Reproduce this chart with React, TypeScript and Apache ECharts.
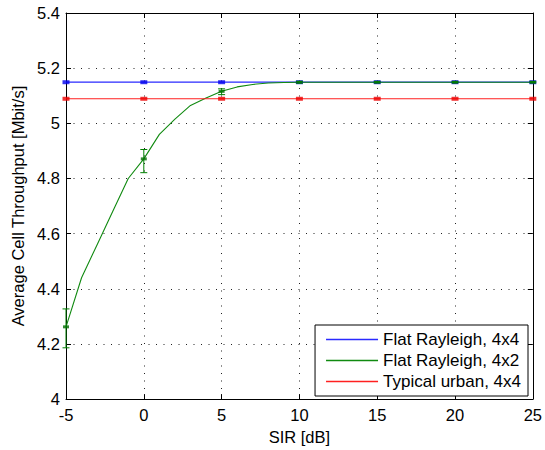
import React, { useEffect, useRef } from "react";
import * as echarts from "echarts";

const sirGrid: number[] = [-5, -4, -3, -2, -1, 0, 1, 2, 3, 4, 5, 6, 7, 8, 9, 10, 11, 12, 13, 14, 15, 16, 17, 18, 19, 20, 21, 22, 23, 24, 25];
const flatRayleigh4x2: number[] = [4.262, 4.44, 4.56, 4.68, 4.8, 4.871, 4.96, 5.015, 5.065, 5.092, 5.116, 5.132, 5.141, 5.146, 5.148, 5.149, 5.149, 5.149, 5.149, 5.149, 5.149, 5.149, 5.149, 5.149, 5.149, 5.149, 5.149, 5.149, 5.149, 5.149, 5.149];

const markerX: number[] = [-5, 0, 5, 10, 15, 20, 25];
const flatRayleigh4x4: number[] = [5.149, 5.149, 5.149, 5.149, 5.149, 5.149, 5.149];
const typicalUrban4x4: number[] = [5.089, 5.089, 5.089, 5.089, 5.089, 5.089, 5.089];
const flat4x2AtMarkers: number[] = [4.262, 4.871, 5.116, 5.149, 5.149, 5.149, 5.149];
const flat4x2ErrLow: number[] = [4.186, 4.821, 5.104, 5.146, 5.147, 5.147, 5.147];
const flat4x2ErrHigh: number[] = [4.327, 4.905, 5.125, 5.152, 5.151, 5.151, 5.151];

const seriesNames: string[] = ["Flat Rayleigh, 4x4", "Flat Rayleigh, 4x2", "Typical urban, 4x4"];
const seriesColors: string[] = ["#2a2aff", "#108a10", "#ff2020"];

const FONT = "Liberation Sans, Arial, Helvetica, sans-serif";
const AXFS = 16.5;

export default function App() {
  const ref = useRef<HTMLDivElement>(null);
  useEffect(() => {
    if (!ref.current) return;
    const chart = echarts.init(ref.current, undefined, { renderer: "svg" });
    const blueLine = sirGrid.map((x) => [x, flatRayleigh4x4[0]]);
    const redLine = sirGrid.map((x) => [x, typicalUrban4x4[0]]);
    const greenLine = sirGrid.map((x, i) => [x, flatRayleigh4x2[i]]);
    const mk = (vals: number[]) => markerX.map((x, i) => [x, vals[i]]);
    const errData = markerX.map((x, i) => [x, flat4x2ErrLow[i], flat4x2ErrHigh[i]]);

    const splitLine = { show: true, lineStyle: { color: "#222", width: 1, type: [1, 6.5] as any } };
    const axisLine = { show: true, onZero: false, lineStyle: { color: "#000", width: 1 } };
    const axisTick = { show: true, inside: true, length: 5, lineStyle: { color: "#000" } };

    chart.setOption({
      animation: false,
      textStyle: { fontFamily: FONT },
      grid: { left: 66, right: 8, top: 13, bottom: 47, containLabel: false },
      legend: {
        data: seriesNames.map((n) => ({ name: n, icon: "rect" })),
        orient: "vertical",
        right: 17,
        bottom: 54,
        itemWidth: 52,
        itemHeight: 1.5,
        itemGap: 4,
        padding: [6, 7, 6, 11],
        borderColor: "#000",
        borderWidth: 1,
        borderRadius: 0,
        backgroundColor: "#fff",
        textStyle: { fontSize: 17, fontFamily: FONT, color: "#000", lineHeight: 17 },
      },
      xAxis: [
        {
          type: "value",
          min: -5,
          max: 25,
          interval: 5,
          position: "bottom",
          name: "SIR [dB]",
          nameLocation: "middle",
          nameGap: 35,
          nameTextStyle: { fontSize: AXFS, fontFamily: FONT, color: "#000", verticalAlign: "middle" },
          axisLine,
          axisTick,
          axisLabel: { fontSize: AXFS, fontFamily: FONT, color: "#000", margin: 7 },
          splitLine,
        },
        {
          type: "value",
          min: -5,
          max: 25,
          interval: 5,
          position: "top",
          axisLine,
          axisTick,
          axisLabel: { show: false },
          splitLine: { show: false },
        },
      ],
      yAxis: [
        {
          type: "value",
          min: 4,
          max: 5.4,
          interval: 0.2,
          position: "left",
          name: "Average Cell Throughput [Mbit/s]",
          nameLocation: "middle",
          nameGap: 45,
          nameTextStyle: { fontSize: AXFS, fontFamily: FONT, color: "#000", verticalAlign: "middle" },
          axisLine,
          axisTick,
          axisLabel: {
            fontSize: AXFS,
            fontFamily: FONT,
            color: "#000",
            margin: 6,
            formatter: (v: number) => String(Number(v.toFixed(1))),
          },
          splitLine,
        },
        {
          type: "value",
          min: 4,
          max: 5.4,
          interval: 0.2,
          position: "right",
          axisLine,
          axisTick,
          axisLabel: { show: false },
          splitLine: { show: false },
        },
      ],
      series: [
        {
          name: seriesNames[0],
          type: "line",
          data: blueLine,
          showSymbol: false,
          symbol: "none",
          color: seriesColors[0],
          lineStyle: { color: seriesColors[0], width: 1.2 },
          z: 2,
        },
        {
          name: seriesNames[1],
          type: "line",
          data: greenLine,
          showSymbol: false,
          symbol: "none",
          color: seriesColors[1],
          lineStyle: { color: seriesColors[1], width: 1.1 },
          z: 3,
        },
        {
          name: seriesNames[2],
          type: "line",
          data: redLine,
          showSymbol: false,
          symbol: "none",
          color: seriesColors[2],
          lineStyle: { color: seriesColors[2], width: 1.2 },
          z: 4,
        },
        {
          type: "scatter",
          data: mk(flatRayleigh4x4),
          symbol: "rect",
          symbolSize: [7, 4],
          itemStyle: { color: "#0000ee" },
          z: 5,
          silent: true,
        },
        {
          type: "scatter",
          data: mk(flat4x2AtMarkers),
          symbol: "rect",
          symbolSize: [6, 3],
          itemStyle: { color: "#006a00" },
          z: 6,
          silent: true,
        },
        {
          type: "scatter",
          data: mk(typicalUrban4x4),
          symbol: "rect",
          symbolSize: [7, 4],
          itemStyle: { color: "#ee0000" },
          z: 7,
          silent: true,
        },
        {
          type: "custom",
          data: errData,
          z: 8,
          silent: true,
          clip: false,
          renderItem: (params: any, api: any) => {
            const x = api.value(0);
            const lo = api.coord([x, api.value(1)]);
            const hi = api.coord([x, api.value(2)]);
            const hw = 3.5;
            const style = { stroke: "#008000", lineWidth: 1 };
            return {
              type: "group",
              children: [
                { type: "line", shape: { x1: lo[0], y1: lo[1], x2: hi[0], y2: hi[1] }, style },
                { type: "line", shape: { x1: lo[0] - hw, y1: lo[1], x2: lo[0] + hw, y2: lo[1] }, style },
                { type: "line", shape: { x1: hi[0] - hw, y1: hi[1], x2: hi[0] + hw, y2: hi[1] }, style },
              ],
            };
          },
        },
      ],
    });
    return () => chart.dispose();
  }, []);
  return <div ref={ref} style={{ position: "fixed", left: 0, top: 0, width: 545, height: 450, background: "#fff" }} />;
}
